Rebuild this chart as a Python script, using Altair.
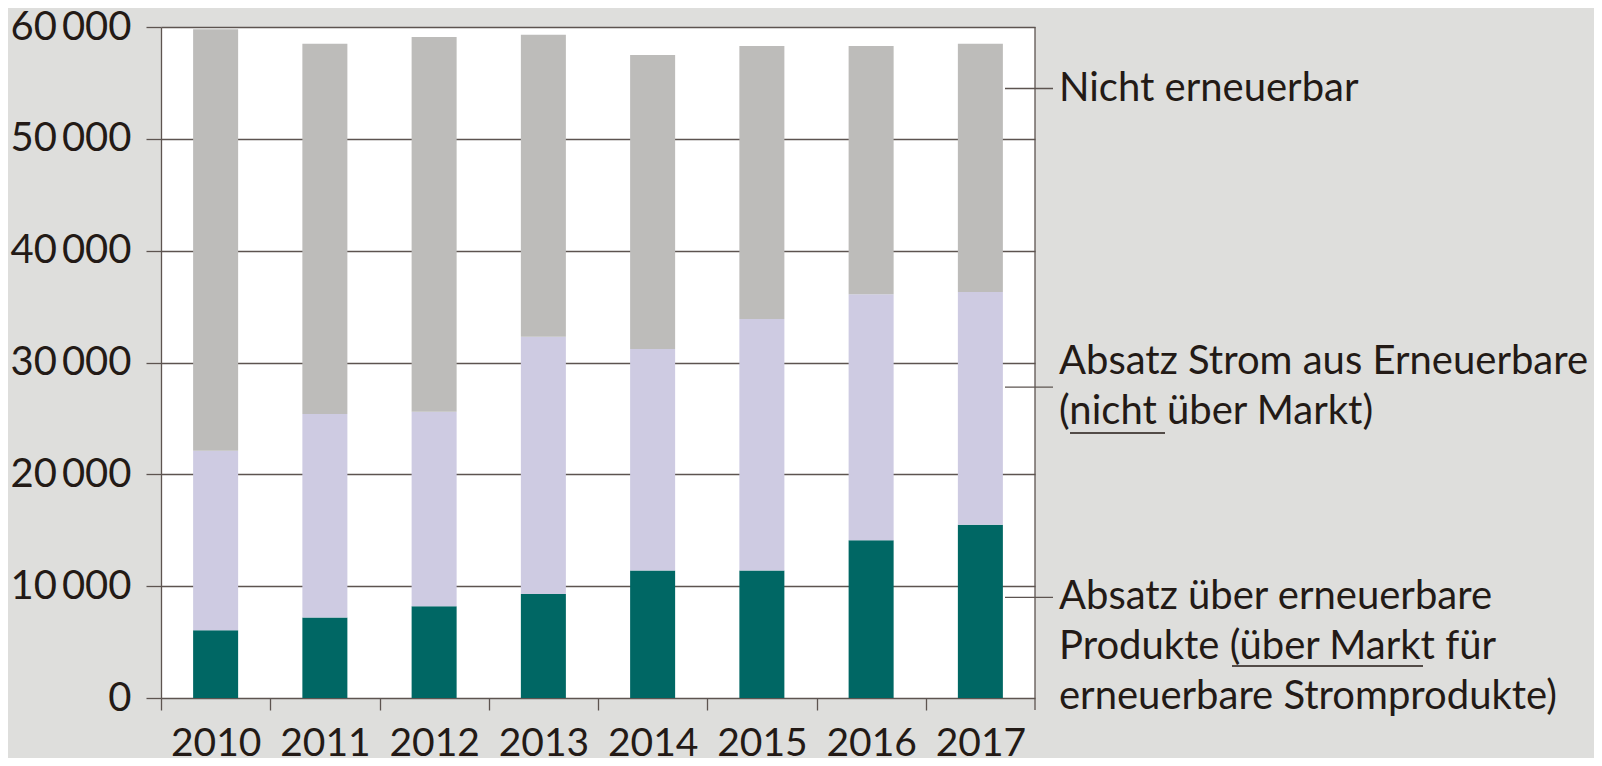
import altair as alt
import pandas as pd

# ---- data ----
years = ["2010", "2011", "2012", "2013", "2014", "2015", "2016", "2017"]
produkte = [6050, 7200, 8200, 9300, 11400, 11400, 14100, 15500]          # teal
nicht_markt = [16050, 18200, 17400, 23000, 19800, 22500, 22000, 20800]   # lavender
nicht_erneuerbar = [37700, 33100, 33500, 27000, 26300, 24400, 22200, 22200]  # grey

series_names = ["Absatz über erneuerbare Produkte", "Absatz Strom aus Erneuerbare", "Nicht erneuerbar"]
series_colors = ["#006764", "#cecbe2", "#bdbcba"]
y_ticks = [0, 10000, 20000, 30000, 40000, 50000, 60000]

ann_lines = [
    ["Nicht erneuerbar"],
    ["Absatz Strom aus Erneuerbare", "(nicht über Markt)"],
    ["Absatz über erneuerbare", "Produkte (über Markt für", "erneuerbare Stromprodukte)"],
]
ann_y = [54500, 27800, 9000]

# ---- styling ----
FONT = "Lato"
FS = 40
TXT = "#231a16"
LINE = "#5d5450"
BG = "#dededc"
W, H = 874, 671
STEP = W / len(years)
LH = 50

rows = []
for i, y in enumerate(years):
    for k, vals in enumerate([produkte, nicht_markt, nicht_erneuerbar]):
        rows.append({"year": y, "series": series_names[k], "order": k, "value": vals[i]})
df = pd.DataFrame(rows)

x_scale = alt.Scale(domain=years, paddingInner=0.588, paddingOuter=0.294)
y_scale = alt.Scale(domain=[0, 60000], nice=False)

bars = alt.Chart(df).mark_bar().encode(
    x=alt.X("year:N", scale=x_scale, sort=years,
            axis=alt.Axis(title=None, labelAngle=0, domain=False, tickSize=12,
                          tickColor=LINE, tickWidth=1.3,
                          tickOffset=-STEP / 2, labelOffset=STEP / 2,
                          labelPadding=14, labelFontSize=39, labelColor=TXT,
                          labelFont=FONT)),
    y=alt.Y("value:Q", scale=y_scale, stack="zero",
            axis=alt.Axis(title=None, values=y_ticks, grid=True, gridColor=LINE,
                          gridWidth=1.3, domain=True, domainColor=LINE, domainWidth=1.3,
                          tickSize=15, tickColor=LINE, tickWidth=1.3, labelPadding=15,
                          labelFontSize=FS, labelColor=TXT, labelFont=FONT,
                          labelExpr="replace(format(datum.value, ','), ',', '\u2009')")),
    color=alt.Color("series:N", scale=alt.Scale(domain=series_names, range=series_colors), legend=None),
    order=alt.Order("order:Q"),
)

one = pd.DataFrame({"a": [0]})

border = alt.Chart(one).mark_rule(color=LINE, strokeWidth=1.3).encode(
    x=alt.value(W), y=alt.value(0), y2=alt.value(H + 12)
)

layers = [bars, border]
dys = [0, -LH / 2, 0]
for i, lines in enumerate(ann_lines):
    layers.append(
        alt.Chart(one).mark_rule(color=LINE, strokeWidth=1.3).encode(
            x=alt.value(844), x2=alt.value(892), y=alt.datum(ann_y[i])
        )
    )
    layers.append(
        alt.Chart(one).mark_text(text=lines, align="left", baseline="middle", dy=dys[i],
                                 lineHeight=LH, font=FONT, fontSize=FS, color=TXT).encode(
            x=alt.value(898), y=alt.datum(ann_y[i])
        )
    )

# underlines of emphasised words
for (x1, x2, yy) in [(909, 1004, 406), (1071, 1262, 639)]:
    layers.append(
        alt.Chart(one).mark_rule(color=TXT, strokeWidth=1.5).encode(
            x=alt.value(x1), x2=alt.value(x2), y=alt.value(yy)
        )
    )

chart = alt.layer(*layers).properties(
    width=W, height=H,
    autosize=alt.AutoSizeParams(type="none"),
    padding={"left": 153, "top": 19, "right": 1586 - 153 - W, "bottom": 750 - 19 - H},
    background=BG,
).configure_view(fill="white", stroke=None)

chart.save("out.html", embed_options={"renderer": "svg", "actions": False})
